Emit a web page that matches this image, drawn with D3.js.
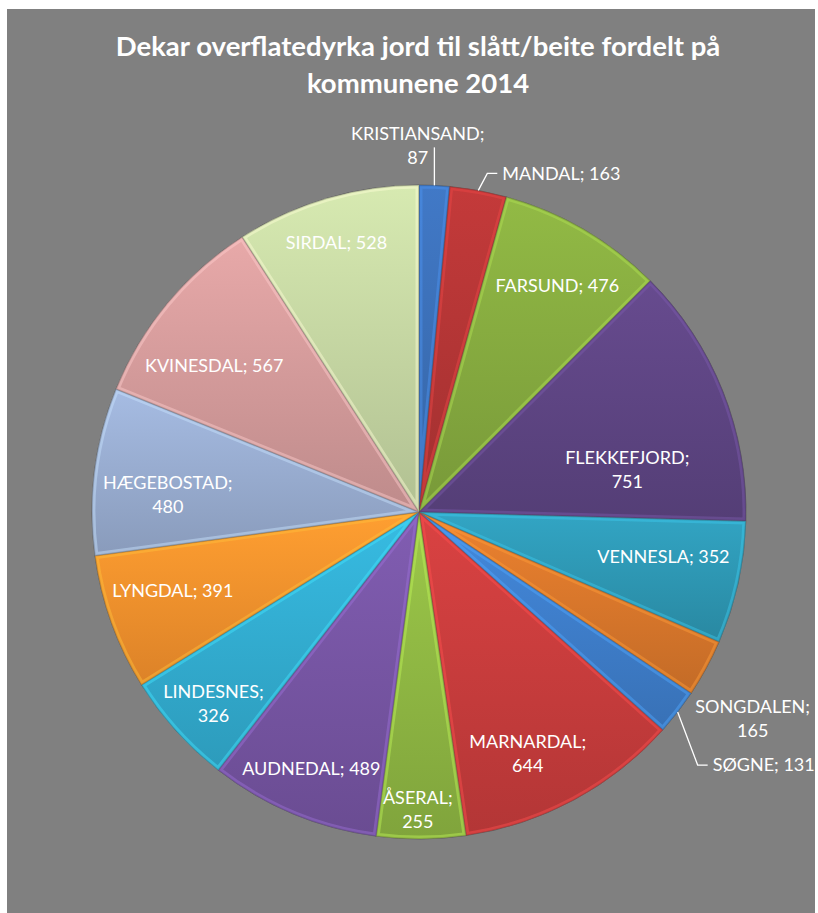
<!DOCTYPE html>
<html>
<head>
<meta charset="utf-8">
<script src="https://cdn.jsdelivr.net/npm/d3@7"></script>
<style>
  body { margin: 0; background: #fff; }
  svg { display: block; }
  text { font-family: Lato, "Noto Sans", sans-serif; fill: #fff; }
</style>
</head>
<body>
<div class="pie-chart"></div>
<script>
// data
const kommuner = ["KRISTIANSAND", "MANDAL", "FARSUND", "FLEKKEFJORD", "VENNESLA", "SONGDALEN", "SØGNE",
    "MARNARDAL", "ÅSERAL", "AUDNEDAL", "LINDESNES", "LYNGDAL", "HÆGEBOSTAD", "KVINESDAL", "SIRDAL"];
const dekar = [87, 163, 476, 751, 352, 165, 131, 644, 255, 489, 326, 391, 480, 567, 528];
const titleLines = ["Dekar overflatedyrka jord til slått/beite fordelt på", "kommunene 2014"];

// colours per slice
const colors = ["#3b6fb6", "#b33535", "#86aa3f", "#5e4583", "#2e97b3", "#d9772b", "#3e7ecb",
    "#c73c3c", "#8fb743", "#7655a3", "#32acd0", "#f5912d", "#98acd0", "#d49b9b", "#c5d6a2"];

// label placement: angle shift (deg) from slice middle, radius factor, two lines or not
// outside labels get a leader
const placement = {
    "KRISTIANSAND": {a: -2.9, k: 1.12, two: true, lead: [[0, -38]]},
    "MANDAL": {out: true, lead: [[9, -17], [19, -17]]},
    "FARSUND": {a: 1.2, k: 0.81},
    "FLEKKEFJORD": {a: 10.2, k: 0.65, two: true},
    "VENNESLA": {a: -2.1, k: 0.76},
    "SONGDALEN": {a: 3.2, k: 1.2, two: true},
    "SØGNE": {out: true, lead: [[20, 53], [30, 53]]},
    "MARNARDAL": {a: 4.0, k: 0.81, two: true},
    "ÅSERAL": {a: 0.6, k: 0.91, two: true},
    "AUDNEDAL": {a: 0.1, k: 0.85},
    "LINDESNES": {a: -1.0, k: 0.86, two: true},
    "LYNGDAL": {a: 2.1, k: 0.79},
    "HÆGEBOSTAD": {a: -3.3, k: 0.77, two: true},
    "KVINESDAL": {a: -4.1, k: 0.77},
    "SIRDAL": {a: -0.7, k: 0.86}
};

const width = 818;
const height = 913;
const cx = 419, cy = 512, radius = 327;

const svg = d3.select('.pie-chart')
    .append('svg')
    .attr('width', width)
    .attr('height', height);

svg.append('rect')
    .attr('x', 7)
    .attr('y', 9)
    .attr('width', 808)
    .attr('height', height - 9)
    .attr('fill', '#808080');

svg.selectAll('text.title')
    .data(titleLines)
    .enter()
    .append('text')
    .attr('class', 'title')
    .attr('x', 418)
    .attr('y', (d, i) => 56 + i * 37)
    .attr('text-anchor', 'middle')
    .attr('font-size', 27.5)
    .attr('font-weight', 'bold')
    .text(d => d);

const data = kommuner.map((k, i) => ({name: k, value: dekar[i], color: colors[i]}));

const pie = d3.pie().sort(null).value(d => d.value);
const arc = d3.arc().innerRadius(0).outerRadius(radius);
const arcs = pie(data);

const defs = svg.append('defs');
arcs.forEach((d, i) => {
    const g = defs.append('linearGradient')
        .attr('id', 'grad' + i)
        .attr('x1', 0).attr('y1', 0).attr('x2', 0).attr('y2', 1);
    g.append('stop').attr('offset', '0%').attr('stop-color', d3.color(d.data.color).brighter(0.25));
    g.append('stop').attr('offset', '100%').attr('stop-color', d3.color(d.data.color).darker(0.3));
    defs.append('clipPath')
        .attr('id', 'clip' + i)
        .append('path')
        .attr('d', arc(d));
});

const pieG = svg.append('g').attr('transform', `translate(${cx},${cy})`);

pieG.selectAll('path.slice')
    .data(arcs)
    .enter()
    .append('path')
    .attr('class', 'slice')
    .attr('d', arc)
    .attr('fill', (d, i) => `url(#grad${i})`)
    .attr('stroke', '#4a4a4a')
    .attr('stroke-width', 0.6);

// bevel: light inner edge
pieG.selectAll('path.bevel')
    .data(arcs)
    .enter()
    .append('path')
    .attr('class', 'bevel')
    .attr('d', arc)
    .attr('clip-path', (d, i) => `url(#clip${i})`)
    .attr('fill', 'none')
    .attr('stroke', d => d3.color(d.data.color).brighter(0.8))
    .attr('stroke-opacity', 0.45)
    .attr('stroke-width', 7);

pieG.selectAll('path.bevel2')
    .data(arcs)
    .enter()
    .append('path')
    .attr('class', 'bevel2')
    .attr('d', arc)
    .attr('clip-path', (d, i) => `url(#clip${i})`)
    .attr('fill', 'none')
    .attr('stroke', d => d3.color(d.data.color).darker(0.8))
    .attr('stroke-opacity', 0.35)
    .attr('stroke-width', 2);

function polar(angle, r) {
    return [r * Math.sin(angle), -r * Math.cos(angle)];
}

const fs = 18;
arcs.forEach(d => {
    const p = placement[d.data.name];
    const mid = (d.startAngle + d.endAngle) / 2;
    if (p.lead) {
        const start = polar(mid, radius);
        const pts = [start].concat(p.lead.map(o => [start[0] + o[0], start[1] + o[1]]));
        pieG.append('polyline')
            .attr('points', pts.map(q => q.join(',')).join(' '))
            .attr('fill', 'none')
            .attr('stroke', '#fff')
            .attr('stroke-width', 1.3);
        if (p.out) {
            const end = pts[pts.length - 1];
            pieG.append('text')
                .attr('x', end[0] + 5)
                .attr('y', end[1])
                .attr('dy', '0.35em')
                .attr('font-size', fs)
                .text(`${d.data.name}; ${d.data.value}`);
            return;
        }
    }
    const pos = polar(mid + p.a * Math.PI / 180, p.k * radius);
    const t = pieG.append('text')
        .attr('x', pos[0])
        .attr('y', pos[1])
        .attr('text-anchor', 'middle')
        .attr('font-size', fs);
    if (p.two) {
        t.append('tspan').attr('x', pos[0]).attr('y', pos[1] - 12).attr('dy', '0.35em').text(d.data.name + ';');
        t.append('tspan').attr('x', pos[0]).attr('y', pos[1] + 12).attr('dy', '0.35em').text(d.data.value);
    } else {
        t.attr('dy', '0.35em').text(`${d.data.name}; ${d.data.value}`);
    }
});
</script>
</body>
</html>
